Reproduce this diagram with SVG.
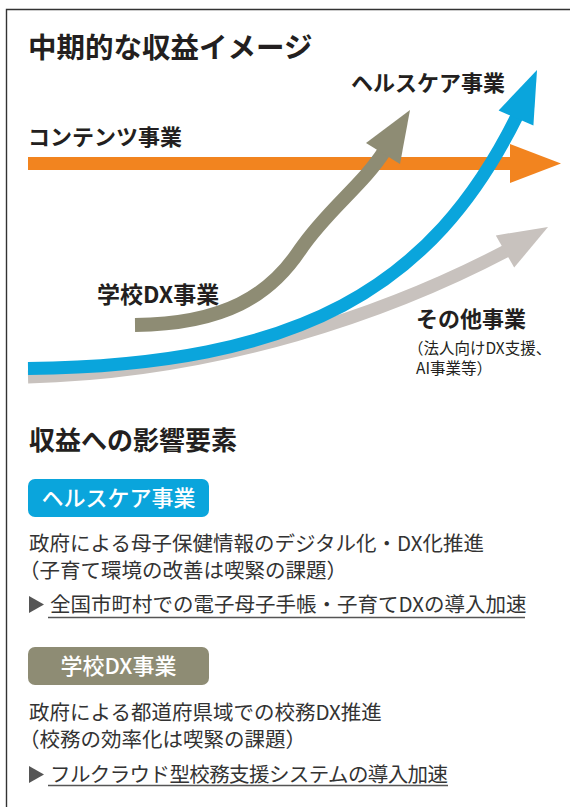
<svg xmlns="http://www.w3.org/2000/svg" width="570" height="807" viewBox="0 0 570 807">
<style>
text{font-family:"Noto Sans CJK JP","Noto Sans",sans-serif;fill:#231f20}
.title{font-size:28.5px;font-weight:700}
.head{font-size:26px;font-weight:700}
.lbl{font-size:22px;font-weight:700}
.sub{font-size:15.5px;font-weight:400}
.body{font-size:20.5px;font-weight:400;fill:#333}
.tagt{font-size:22px;font-weight:500;fill:#fff}
.shaft{fill:none;stroke-linecap:butt}
.ul{stroke:#555;stroke-width:1.5}
.tri{fill:#555}
</style>
<rect width="570" height="807" fill="#fff"/>
<path d="M6.5,807 V9.5 H570" fill="none" stroke="#333" stroke-width="1.4"/>

<g id="title"><text class="title" x="28" y="58">中期的な収益イメージ</text></g>

<g id="connectors">
  <g id="arrow-contents">
    <rect x="28" y="157" width="486" height="13" fill="#f2841f"/>
    <polygon points="510,144 561,163.5 510,183" fill="#f2841f"/>
  </g>
  <g id="arrow-other">
    <path class="shaft" d="M28,377 C220,372 390,312 507,250.5" stroke="#c8c2be" stroke-width="13"/>
    <polygon points="548,227 495.8,235.4 514.2,267.6" fill="#c8c2be"/>
  </g>
  <g id="arrow-health">
    <path class="shaft" d="M28,368.5 C300,365 432,288 517,116" stroke="#0aa5dc" stroke-width="13"/>
    <polygon points="537,70 498.6,110.4 533.4,125.6" fill="#0aa5dc"/>
  </g>
  <g id="arrow-school">
    <path class="shaft" d="M135,325 C225,324 270,295 300,250 C326,211 364,184 385,150" stroke="#8e8c74" stroke-width="14"/>
    <polygon points="410,110 366,143 400,164" fill="#8e8c74"/>
  </g>
</g>

<g id="label-health"><text class="lbl" x="351" y="91">ヘルスケア事業</text></g>
<g id="label-contents"><text class="lbl" x="28" y="145">コンテンツ事業</text></g>
<g id="label-school"><text class="lbl" x="97" y="303" style="font-size:23px">学校DX事業</text></g>
<g id="label-other">
  <text class="lbl" x="416" y="327">その他事業</text>
  <text class="sub" x="408" y="354">（法人向けDX支援、</text>
  <text class="sub" x="416" y="374">AI事業等）</text>
</g>

<g id="heading"><text class="head" x="29" y="450">収益への影響要素</text></g>

<g id="section-health">
  <rect x="28" y="479" width="181" height="38" rx="7" fill="#0aa5dc"/>
  <text class="tagt" x="118.5" y="506" text-anchor="middle">ヘルスケア事業</text>
  <text class="body" x="29" y="551">政府による母子保健情報のデジタル化・DX化推進</text>
  <text class="body" x="19" y="578">（子育て環境の改善は喫緊の課題）</text>
  <polygon class="tri" points="29,596 29,613 44,604.5"/>
  <text class="body" x="50" y="612">全国市町村での電子母子手帳・子育てDXの導入加速</text>
  <line class="ul" x1="48" y1="617.5" x2="525" y2="617.5"/>
</g>

<g id="section-school">
  <rect x="28" y="647" width="181" height="38" rx="7" fill="#8e8c74"/>
  <text class="tagt" x="118.5" y="674" text-anchor="middle">学校DX事業</text>
  <text class="body" x="29" y="720">政府による都道府県域での校務DX推進</text>
  <text class="body" x="19" y="747">（校務の効率化は喫緊の課題）</text>
  <polygon class="tri" points="29,766 29,783 44,774.5"/>
  <text class="body" x="50" y="782" textLength="398" lengthAdjust="spacing">フルクラウド型校務支援システムの導入加速</text>
  <line class="ul" x1="48" y1="785.5" x2="448" y2="785.5"/>
</g>
</svg>
